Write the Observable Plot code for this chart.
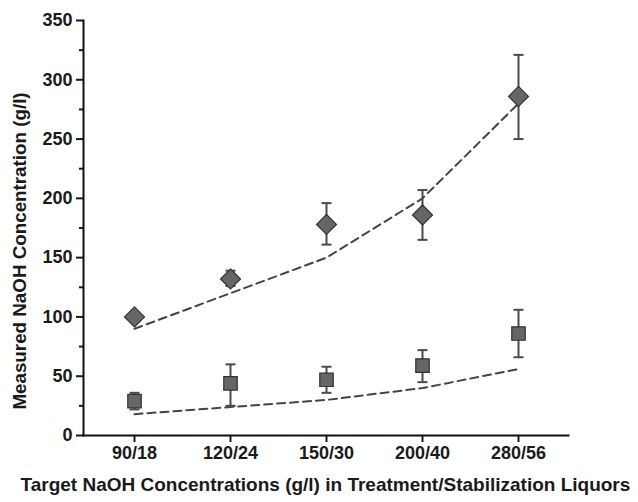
<!DOCTYPE html>
<html>
<head>
<meta charset="utf-8">
<script src="https://cdn.jsdelivr.net/npm/d3@7"></script>
<script src="https://cdn.jsdelivr.net/npm/@observablehq/plot@0.6"></script>
<style>
  html, body { margin: 0; padding: 0; background: #fff; }
</style>
</head>
<body>
<div id="chart"></div>
<script>
const categories = ["90/18", "120/24", "150/30", "200/40", "280/56"];
// NaOH (upper, diamonds)
const naohMeasured = [100, 132, 178, 186, 286];
const naohLow      = [98, 126, 161, 165, 250];
const naohHigh     = [102, 139, 196, 207, 321];
const naohTarget   = [90, 120, 150, 200, 280];
// Stabilization (lower, squares)
const stabMeasured = [29, 44, 47, 59, 86];
const stabLow      = [22, 25, 36, 45, 66];
const stabHigh     = [36, 60, 58, 72, 106];
const stabTarget   = [18, 24, 30, 40, 56];

const yTicks = [0, 50, 100, 150, 200, 250, 300, 350];
const yMinor = [25, 75, 125, 175, 225, 275, 325];
const xLabel = "Target NaOH Concentrations (g/l) in Treatment/Stabilization Liquors";
const yLabel = "Measured NaOH Concentration (g/l)";

const upper = categories.map((c, i) => ({cat: c, v: naohMeasured[i], lo: naohLow[i], hi: naohHigh[i], t: naohTarget[i]}));
const lower = categories.map((c, i) => ({cat: c, v: stabMeasured[i], lo: stabLow[i], hi: stabHigh[i], t: stabTarget[i]}));

const font = "'Liberation Sans', Arial, sans-serif";

// horizontal cap symbol for error bars
const capSymbol = {
  draw(context, size) {
    const w = Math.sqrt(size);
    context.moveTo(-w / 2, 0);
    context.lineTo(w / 2, 0);
  }
};
const capR = 10 / Math.sqrt(Math.PI);

const plot = Plot.plot({
  width: 638,
  height: 502,
  marginLeft: 83,
  marginRight: 70,
  marginTop: 20,
  marginBottom: 67,
  style: {fontFamily: font, fontSize: "18px", fontWeight: "bold", color: "#1a1a1a", background: "#fff"},
  x: {type: "point", domain: categories, padding: 0.52},
  y: {domain: [0, 350]},
  marks: [
    Plot.axisY({ticks: yTicks, tickSize: 7, tickPadding: 4, tickFormat: d => String(d), label: null, fontSize: 18, fontWeight: "bold", strokeWidth: 2}),
    Plot.axisY({ticks: yMinor, tickSize: 4, tickFormat: () => "", label: null, strokeWidth: 2}),
    Plot.axisX({tickSize: 7, tickPadding: 4, label: null, fontSize: 18, fontWeight: "bold", strokeWidth: 2}),
    Plot.frame({anchor: "left", stroke: "#111", strokeWidth: 2}),
    Plot.frame({anchor: "bottom", stroke: "#111", strokeWidth: 2}),
    // target dashed lines
    Plot.line(upper, {x: "cat", y: "t", stroke: "#444", strokeWidth: 2, strokeDasharray: "8,5"}),
    Plot.line(lower, {x: "cat", y: "t", stroke: "#444", strokeWidth: 2, strokeDasharray: "8,5"}),
    // error bars
    Plot.ruleX(upper, {x: "cat", y1: "lo", y2: "hi", stroke: "#4a4a4a", strokeWidth: 2}),
    Plot.ruleX(lower, {x: "cat", y1: "lo", y2: "hi", stroke: "#4a4a4a", strokeWidth: 2}),
    Plot.dot(upper, {x: "cat", y: "lo", symbol: capSymbol, r: capR, fill: "none", stroke: "#4a4a4a", strokeWidth: 2}),
    Plot.dot(upper, {x: "cat", y: "hi", symbol: capSymbol, r: capR, fill: "none", stroke: "#4a4a4a", strokeWidth: 2}),
    Plot.dot(lower, {x: "cat", y: "lo", symbol: capSymbol, r: capR, fill: "none", stroke: "#4a4a4a", strokeWidth: 2}),
    Plot.dot(lower, {x: "cat", y: "hi", symbol: capSymbol, r: capR, fill: "none", stroke: "#4a4a4a", strokeWidth: 2}),
    // markers
    Plot.dot(upper, {x: "cat", y: "v", symbol: "diamond2", r: 9, fill: "#666", stroke: "#333", strokeWidth: 1.2}),
    Plot.dot(lower, {x: "cat", y: "v", symbol: "square", r: 7.6, fill: "#666", stroke: "#333", strokeWidth: 1.2}),
    // axis titles
    Plot.text([xLabel], {frameAnchor: "bottom-left", textAnchor: "start", dx: -63, dy: 55, fontSize: 19, fontWeight: "bold", fill: "#1a1a1a"}),
    Plot.text([yLabel], {frameAnchor: "left", textAnchor: "middle", rotate: -90, dx: -64, dy: 23, fontSize: 18.8, fontWeight: "bold", fill: "#1a1a1a"})
  ]
});
document.getElementById("chart").appendChild(plot);
</script>
</body>
</html>
